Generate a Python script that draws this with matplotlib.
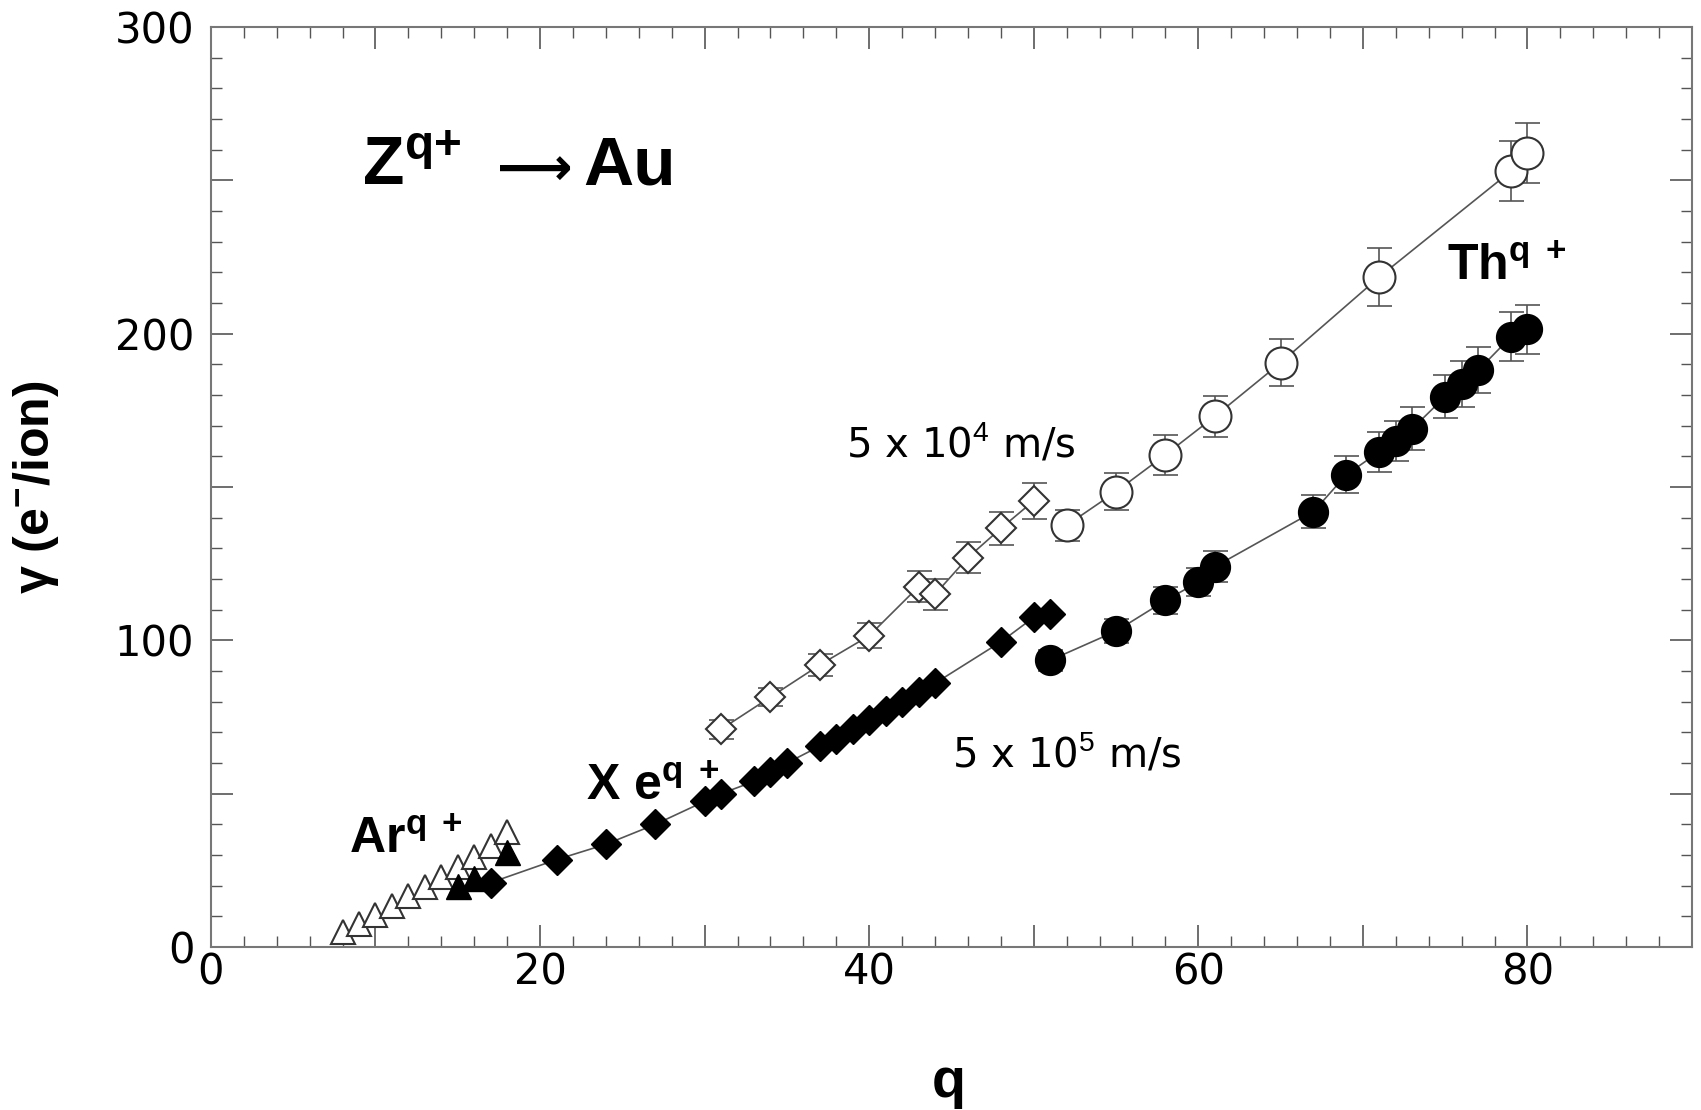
import matplotlib
matplotlib.use("Agg")
import matplotlib.pyplot as plt
from matplotlib.ticker import MultipleLocator, FuncFormatter

# Ar^q+ (filled: 5e5 m/s, open: 5e4 m/s)
ar_fast_q = [15, 16, 18]
ar_fast_y = [20, 22.5, 31]
ar_slow_q = [8, 9, 10, 11, 12, 13, 14, 15, 16, 17, 18]
ar_slow_y = [5, 7.5, 10.5, 13.5, 16.5, 19.5, 23, 26, 29.5, 33, 37.5]

# Xe^q+
xe_fast_q = [17, 21, 24, 27, 30, 31, 33, 34, 35, 37, 38, 39, 40, 41, 42, 43, 44, 48, 50, 51]
xe_fast_y = [21, 28.5, 33.5, 40, 47.5, 50, 54, 57, 60, 65.5, 68, 71, 74, 77, 80, 83, 86, 99.5, 107.5, 108.5]
xe_slow_q = [31, 34, 37, 40, 43, 44, 46, 48, 50]
xe_slow_y = [71, 81.5, 92, 101.5, 117.5, 115, 127, 136.5, 145.5]
xe_slow_err = [3, 3, 3.5, 4, 5, 5, 5.2, 5.5, 5.8]

# Th^q+
th_fast_q = [51, 55, 58, 60, 61, 67, 69, 71, 72, 73, 75, 76, 77, 79, 80]
th_fast_y = [93.5, 103, 113, 119, 124, 142, 154, 161.5, 165, 169, 179.5, 183.5, 188, 199, 201.5]
th_fast_err = [3.5, 4, 4.5, 4.5, 5, 5.5, 6, 6.5, 6.5, 7, 7, 7.5, 7.5, 8, 8]
th_slow_q = [52, 55, 58, 61, 65, 71, 79, 80]
th_slow_y = [137.5, 148.5, 160.5, 173, 190.5, 218.5, 253, 259]
th_slow_err = [5, 6, 6.5, 6.7, 7.6, 9.4, 9.8, 9.8]

plt.rcParams["font.family"] = ["Liberation Sans", "DejaVu Sans"]
plt.rcParams["mathtext.fontset"] = "custom"
plt.rcParams["mathtext.rm"] = "Liberation Sans"
plt.rcParams["mathtext.bf"] = "Liberation Sans:bold"
plt.rcParams["mathtext.it"] = "Liberation Sans:italic"

fig = plt.figure(figsize=(17.01, 11.10), dpi=100)
ax = fig.add_axes([0.124, 0.1468, 0.8707, 0.8289])

line_c = "#555555"
edge_c = "#333333"

# connecting lines
ax.plot(xe_fast_q, xe_fast_y, "-", color=line_c, lw=1.2, zorder=1)
ax.plot(th_fast_q, th_fast_y, "-", color=line_c, lw=1.2, zorder=1)
ax.plot(xe_slow_q, xe_slow_y, "-", color=line_c, lw=1.2, zorder=1)
ax.plot(th_slow_q, th_slow_y, "-", color=line_c, lw=1.2, zorder=1)

eb = dict(fmt="none", ecolor=line_c, elinewidth=1.2, capsize=9, capthick=1.2, zorder=2)
ax.errorbar(th_slow_q, th_slow_y, yerr=th_slow_err, **eb)
ax.errorbar(th_fast_q, th_fast_y, yerr=th_fast_err, **eb)
ax.errorbar(xe_slow_q, xe_slow_y, yerr=xe_slow_err, **eb)

# markers
ax.plot(ar_slow_q, ar_slow_y, "^", ms=17, mfc="white", mec=edge_c, mew=1.5, ls="none", zorder=3)
ax.plot(ar_fast_q, ar_fast_y, "^", ms=18, mfc="black", mec="black", ls="none", zorder=4)
ax.plot(xe_fast_q, xe_fast_y, "D", ms=15, mfc="black", mec="black", ls="none", zorder=4)
ax.plot(xe_slow_q, xe_slow_y, "D", ms=15, mfc="white", mec=edge_c, mew=1.5, ls="none", zorder=3)
ax.plot(th_fast_q, th_fast_y, "o", ms=21.5, mfc="black", mec="black", ls="none", zorder=4)
ax.plot(th_slow_q, th_slow_y, "o", ms=23, mfc="white", mec=edge_c, mew=1.5, ls="none", zorder=3)

ax.set_xlim(0, 90)
ax.set_ylim(0, 300)

ax.xaxis.set_major_locator(MultipleLocator(10))
ax.xaxis.set_minor_locator(MultipleLocator(2))
ax.yaxis.set_major_locator(MultipleLocator(50))
ax.yaxis.set_minor_locator(MultipleLocator(10))
ax.xaxis.set_major_formatter(FuncFormatter(lambda v, p: f"{v:.0f}" if round(v) % 20 == 0 else ""))
ax.yaxis.set_major_formatter(FuncFormatter(lambda v, p: f"{v:.0f}" if round(v) % 100 == 0 else ""))

ax.tick_params(which="both", direction="in", top=True, right=True, color="#555555")
ax.tick_params(which="major", length=16, width=1.2, labelsize=30, labelfontfamily="DejaVu Sans")
ax.tick_params(which="minor", length=8, width=1.0)
ax.tick_params(axis="x", which="major", pad=3)
ax.tick_params(axis="y", which="major", pad=12)
for s in ax.spines.values():
    s.set_color("#777777")
    s.set_linewidth(1.5)

# axis labels
ax.text(0.498, -0.148, "q", transform=ax.transAxes, ha="center", va="center",
        fontsize=40, fontweight="bold")
ax.text(-0.118, 0.5, r"γ (e$^{\mathbf{-}}$/ion)", transform=ax.transAxes, rotation=90,
        ha="center", va="center", fontsize=36, fontweight="bold")

# annotations
ax.text(9.2, 248.6, r"Z$^{\mathbf{q{+}}}$", fontsize=49, fontweight="bold", va="baseline")
ax.text(17.4, 253.5, "⟶", fontsize=38, fontweight="bold", family=["DejaVu Sans"], va="center")
ax.text(22.6, 248.6, "Au", fontsize=50, fontweight="bold", va="baseline")
ax.text(75.1, 217.5, r"Th$^{\mathbf{q\ +}}$", fontsize=36, fontweight="bold", va="baseline")
ax.text(8.4, 30.7, r"Ar$^{\mathbf{q\ +}}$", fontsize=36, fontweight="bold", va="baseline")
ax.text(22.8, 47.7, r"X e$^{\mathbf{q\ +}}$", fontsize=36, fontweight="bold", va="baseline")
ax.text(38.6, 159.9, r"5 x 10$^{4}$ m/s", fontsize=29, family=["DejaVu Sans"], va="baseline")
ax.text(45.06, 59, r"5 x 10$^{5}$ m/s", fontsize=29, family=["DejaVu Sans"], va="baseline")

fig.savefig("out.png", dpi=100)
